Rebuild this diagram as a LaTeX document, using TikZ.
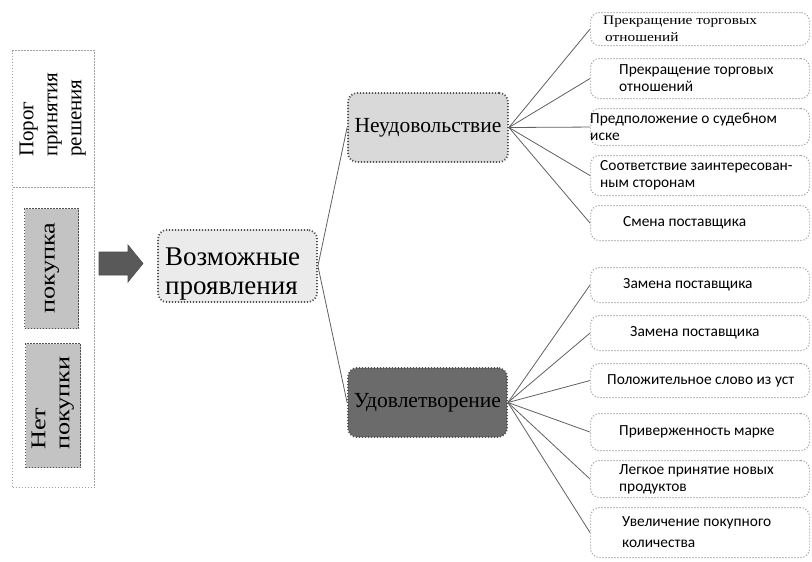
\documentclass[tikz,border=0pt]{standalone}
\usepackage{fontspec}
\setmainfont{Liberation Serif}
\newfontfamily\leaffont{Carlito}
\definecolor{leafline}{HTML}{A0A0A0}
\definecolor{midline}{HTML}{505050}
\definecolor{conline}{HTML}{606060}
\definecolor{neudfill}{HTML}{D9D9D9}
\definecolor{udovfill}{HTML}{6B6B6B}
\definecolor{vozmfill}{HTML}{EBEBEB}
\definecolor{grayfill}{HTML}{C3C3C3}
\definecolor{arrowfill}{HTML}{595959}
\begin{document}
\begin{tikzpicture}[x=1pt,y=-1pt,
  dots/.style={dash pattern=on 1.1pt off 1.9pt},
  leafbox/.style={draw=leafline, dots, line width=1.1pt, rounded corners=9pt,
    minimum width=219pt, anchor=north west, inner sep=0pt},
  leaftext/.style={anchor=west, align=left, inner sep=0pt,
    font=\leaffont\fontsize{15.4}{17}\selectfont},
  midbox/.style={draw=midline, dots, line width=1.8pt, rounded corners=9pt,
    inner sep=0pt, font=\fontsize{21.5}{24}\selectfont},
  colbox/.style={draw=leafline, dots, line width=1.1pt, anchor=north west, inner sep=0pt},
  graybox/.style={draw=midline, dots, line width=1.1pt, fill=grayfill, anchor=north west, inner sep=0pt},
  coltext/.style={rotate=90, align=left, inner sep=0pt, font=\fontsize{21}{24}\selectfont},
  conn/.style={draw=conline, line width=0.8pt}
]
\useasboundingbox (0,0) rectangle (812,562);

% left column
\node[colbox, minimum width=82pt, minimum height=137pt] (top) at (12,50) {};
\node[colbox, minimum width=82pt, minimum height=300pt] (low) at (12,187) {};
\node[graybox, minimum width=54pt, minimum height=120pt] (buy) at (24,208) {};
\node[graybox, minimum width=55pt, minimum height=124pt] (nobuy) at (25,343) {};
\node[coltext, anchor=south west] (toptext) at (86,157) {Порог\\принятия\\решения};
\node[rotate=90, inner sep=0pt, font=\fontsize{21}{24}\selectfont] (buytext) at (52,268) {\scalebox{1.25}[1]{покупка}};
\node[coltext, anchor=south west] (nobuytext) at (74,450) {\scalebox{1.25}[1]{Нет}\\\scalebox{1.25}[1]{покупки}};

% arrow
\fill[arrowfill, draw=black!70, line width=0.6pt] (99,252) -- (128,252) -- (128,245) -- (143,263.5)
  -- (128,282) -- (128,275) -- (99,275) -- cycle;

% middle boxes
\node[midbox, fill=vozmfill, minimum width=159pt, minimum height=72pt] (vozm) at (237.5,266) {};
\node[anchor=west, align=left, inner sep=0pt, font=\fontsize{27}{29}\selectfont] (vozmtext) at (165,274) {Возможные\\проявления};
\node[midbox, fill=neudfill, minimum width=160pt, minimum height=69pt] (neud) at (428,127.5) {Неудовольствие};
\node[midbox, fill=udovfill, minimum width=159pt, minimum height=69pt] (udov) at (427.5,402.5) {Удовлетворение};

\draw[conn] (vozm.east) -- (neud.west);
\draw[conn] (vozm.east) -- (udov.west);

% leaves
\node[leafbox, minimum height=33pt] (l1) at (590,12) {};
\node[leafbox, minimum height=40pt] (l2) at (590,58) {};
\node[leafbox, minimum height=37pt] (l3) at (590,108) {};
\node[leafbox, minimum height=40pt] (l4) at (590,155) {};
\node[leafbox, minimum height=35pt] (l5) at (590,205) {};
\node[leafbox, minimum height=35pt] (l6) at (590,267) {};
\node[leafbox, minimum height=35pt] (l7) at (590,315) {};
\node[leafbox, minimum height=34pt] (l8) at (590,363) {};
\node[leafbox, minimum height=37pt] (l9) at (590,413) {};
\node[leafbox, minimum height=37pt] (l10) at (590,460) {};
\node[leafbox, minimum height=50pt] (l11) at (590,507) {};

\node[leaftext, font=\fontsize{13}{17}\selectfont] (t1) at ([xshift=13pt]l1.west) {\scalebox{1.18}[1]{Прекращение торговых}\\\hspace*{2pt}\scalebox{1.18}[1]{отношений}};
\node[leaftext] (t2) at ([xshift=29pt]l2.west) {Прекращение торговых\\отношений};
\node[leaftext] (t3) at ([xshift=0pt]l3.west) {Предположение о судебном\\иске};
\node[leaftext] (t4) at ([xshift=10pt]l4.west) {Соответствие заинтересован-\\ным сторонам};
\node[leaftext] (t5) at ([xshift=33pt]l5.west) {Смена поставщика};
\node[leaftext] (t6) at ([xshift=33pt]l6.west) {Замена поставщика};
\node[leaftext] (t7) at ([xshift=40pt]l7.west) {Замена поставщика};
\node[leaftext] (t8) at ([xshift=17pt]l8.west) {Положительное слово из уст};
\node[leaftext] (t9) at ([xshift=29pt]l9.west) {Приверженность марке};
\node[leaftext] (t10) at ([xshift=29pt]l10.west) {Легкое принятие новых\\продуктов};
\node[leaftext, font=\leaffont\fontsize{15.4}{21}\selectfont] (t11) at ([xshift=32pt]l11.west) {Увеличение покупного\\количества};

\foreach \i in {1,...,5} \draw[conn] (neud.east) -- (l\i.west);
\foreach \i in {6,...,11} \draw[conn] (udov.east) -- (l\i.west);
\end{tikzpicture}
\end{document}
